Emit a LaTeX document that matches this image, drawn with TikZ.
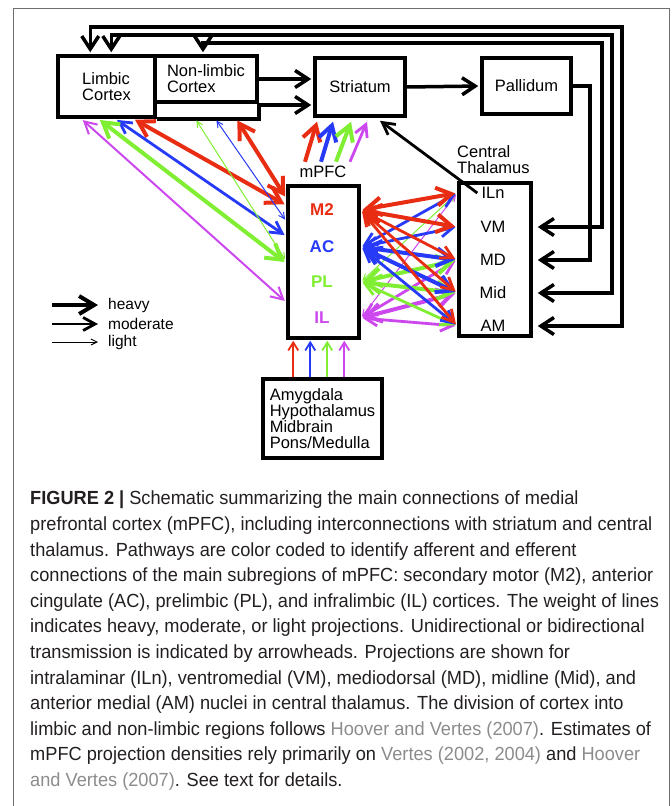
\documentclass[tikz,border=0pt]{standalone}
\usepackage{fontspec}
\setmainfont{Liberation Sans}
\newfontfamily\capfont[FakeStretch=0.958]{Liberation Sans}
\usetikzlibrary{arrows.meta}
\definecolor{mred}{RGB}{232,45,18}
\definecolor{mblue}{RGB}{38,58,248}
\definecolor{mgreen}{RGB}{128,238,50}
\definecolor{mpurple}{RGB}{204,72,238}
\definecolor{capgray}{RGB}{140,140,140}
\definecolor{capblack}{RGB}{35,31,32}
\definecolor{framegray}{RGB}{110,110,110}
\newcommand{\refcol}[1]{\textcolor{capgray}{#1}}

\begin{document}
\begin{tikzpicture}[x=1pt, y=-1pt,
    box/.style = {draw, line width=3.5pt, inner sep=0pt, font=\fontsize{16.5}{16}\selectfont},
    lbl/.style = {inner sep=0pt, font=\fontsize{16.5}{16}\selectfont},
    sub/.style = {inner sep=0pt, font=\bfseries\fontsize{17}{17}\selectfont},
    heavy/.style = {line width=4pt, >={Straight Barb[length=15pt,width=18pt]}},
    moderate/.style = {line width=2.8pt, >={Straight Barb[length=12pt,width=13pt]}},
    light/.style = {line width=1pt, >={Straight Barb[length=6pt,width=6pt]}},
    input/.style = {line width=1.8pt, >={Straight Barb[length=8pt,width=10pt]}},
    fb/.style = {line width=3.5pt, >={Straight Barb[length=13pt,width=17pt]}},
    trim/.style = {shorten <=2pt, shorten >=2pt}]
  \useasboundingbox (0,0) rectangle (672,806);
  \draw[framegray, line width=1pt] (13,806) -- (13,8) -- (669,8) -- (669,806);

  % boxes
  \node[box, minimum width=97pt, minimum height=61pt, align=left] (lim) at (106.5,86.5) {Limbic\\Cortex};
  \node[box, minimum width=102pt, minimum height=46pt, align=left] (nonlim) at (206,79) {Non-limbic\\Cortex};
  \draw[line width=3.5pt] (nonlim.south east) -- ++(0,15) -- (lim.south east);
  \node[box, minimum width=90pt, minimum height=58pt] (str) at (360,87) {Striatum};
  \node[box, minimum width=89pt, minimum height=56pt] (pal) at (526.5,86) {Pallidum};
  \node[box, minimum width=71pt, minimum height=152pt] (mpfc) at (323.5,262) {};
  \node[box, minimum width=72pt, minimum height=153pt] (thal) at (495,259.5) {};
  \node[box, minimum width=119pt, minimum height=79pt, align=left] (amy) at (322.5,418.5)
    {Amygdala\\Hypothalamus\\Midbrain\\Pons/Medulla};

  \node[lbl] (mlab) at (323,172) {mPFC};
  \node[lbl, anchor=west, align=left] (tlab) at (457,160) {Central\\Thalamus};
  \node[sub, mred] (m2) at (322,210) {M2};
  \node[sub, mblue] (ac) at (322,247) {AC};
  \node[sub, mgreen] (pl) at (322,282) {PL};
  \node[sub, mpurple] (il) at (322,318) {IL};
  \node[lbl] (iln) at (493,193) {ILn};
  \node[lbl] (vm) at (493,227) {VM};
  \node[lbl] (md) at (493,260) {MD};
  \node[lbl] (mid) at (493,293) {Mid};
  \node[lbl] (am) at (493,326) {AM};

  % cortex, striatum, pallidum
  \draw[fb, ->, shorten >=2pt] (nonlim.east) -- (str.west |- nonlim.east);
  \draw[fb, ->, shorten >=2pt] ([yshift=-26pt]nonlim.east) -- ([yshift=-26pt]str.west |- nonlim.east);
  \draw[fb, ->, shorten >=2pt] (str.east) -- (pal.west);
  \draw[moderate, ->] ([xshift=-4pt]iln.west) -- ([xshift=20pt,yshift=-3pt]str.south);

  % thalamic loops
  \draw[fb, ->] (pal.east) -- ++(17,0) |- ([xshift=5pt]thal.east |- md);
  \draw[fb, <->] ([xshift=5pt]thal.east |- vm) -| (602,43) -| ([xshift=-3pt,yshift=2pt]nonlim.north);
  \draw[fb, <->] ([xshift=5pt]thal.east |- mid) -| (612,35) -| ([xshift=55pt,yshift=2pt]lim.north west);
  \draw[fb, <->] ([xshift=5pt]thal.east |- am) -| (622,27) -| ([xshift=34pt,yshift=2pt]lim.north west);

  % mPFC to striatum
  \foreach \c/\a/\b/\w in {mred/-55/-43/heavy, mblue/-39/-27/heavy, mgreen/-24/-9/heavy, mpurple/-10/7/moderate}
    \draw[\w, \c, ->] ([xshift=\a pt,yshift=-44pt]str.south) -- ([xshift=\b pt,yshift=-4pt]str.south);

  % mPFC and cortex
  \draw[heavy, mred, <->, trim] ([xshift=77pt]lim.south west) -- ([yshift=-21pt]mpfc.north west);
  \draw[heavy, mred, <->, trim] ([xshift=180pt]lim.south west) -- ([yshift=-14pt]mpfc.north west);
  \draw[moderate, mblue, <->, trim] ([xshift=59pt]lim.south west) -- ([yshift=-52pt]mpfc.north west);
  \draw[heavy, mgreen, <->, trim] ([xshift=42pt]lim.south west) -- ([yshift=-79pt]mpfc.north west);
  \draw[moderate, mpurple, line width=2pt, <->, trim] ([xshift=25pt]lim.south west) -- ([yshift=-118pt]mpfc.north west);
  \draw[light, mgreen, <->, trim] ([xshift=139pt]lim.south west) -- ([yshift=-77pt]mpfc.north west);
  \draw[light, mblue, <->, trim] ([xshift=159pt]lim.south west) -- ([yshift=-37pt]mpfc.north west);

  % mPFC and thalamus
  \foreach \s/\t/\w/\c in {
      pl/iln/light/mgreen, il/iln/light/mpurple,
      il/md/moderate/mpurple, il/mid/heavy/mpurple, il/am/moderate/mpurple,
      pl/md/heavy/mgreen, pl/mid/heavy/mgreen, pl/am/moderate/mgreen,
      ac/iln/moderate/mblue, ac/vm/moderate/mblue, ac/md/heavy/mblue, ac/mid/heavy/mblue, ac/am/moderate/mblue,
      m2/iln/heavy/mred, m2/vm/heavy/mred, m2/md/moderate/mred, m2/mid/moderate/mred, m2/am/moderate/mred}
    \draw[\w, \c, <->, trim] (mpfc.east |- \s) -- (thal.west |- \t);

  % brainstem inputs
  \foreach \c [count=\i] in {mred, mblue, mgreen, mpurple}
    \draw[input, \c, ->, shorten >=1pt] ([xshift={(15+17*\i)*1pt}]amy.north west) -- ([xshift={(-10+17*\i)*1pt}]mpfc.south west);

  % legend
  \node[lbl, anchor=west, font=\fontsize{15.5}{15}\selectfont] (lgheavy) at (108,305) {heavy};
  \node[lbl, anchor=west, font=\fontsize{15.5}{15}\selectfont] (lgmod) at (108,324) {moderate};
  \node[lbl, anchor=west, font=\fontsize{15.5}{15}\selectfont] (lglight) at (108,342) {light};
  \draw[heavy, ->] ([xshift=-56pt]lgheavy.west) -- ([xshift=-10pt]lgheavy.west);
  \draw[moderate, ->] ([xshift=-56pt]lgmod.west) -- ([xshift=-10pt]lgmod.west);
  \draw[light, ->] ([xshift=-56pt]lglight.west) -- ([xshift=-10pt]lglight.west);

  % caption
  \node[anchor=north west, inner sep=0pt, align=left, text=capblack,
        font=\capfont\fontsize{19}{25.6}\selectfont] (cap) at (30,491)
    {\textbf{FIGURE 2 |} Schematic summarizing the main connections of medial\\
     prefrontal cortex (mPFC), including interconnections with striatum and central\\
     thalamus. Pathways are color coded to identify afferent and efferent\\
     connections of the main subregions of mPFC: secondary motor (M2), anterior\\
     cingulate (AC), prelimbic (PL), and infralimbic (IL) cortices. The weight of lines\\
     indicates heavy, moderate, or light projections. Unidirectional or bidirectional\\
     transmission is indicated by arrowheads. Projections are shown for\\
     intralaminar (ILn), ventromedial (VM), mediodorsal (MD), midline (Mid), and\\
     anterior medial (AM) nuclei in central thalamus. The division of cortex into\\
     limbic and non-limbic regions follows \refcol{Hoover and Vertes (2007)}. Estimates of\\
     mPFC projection densities rely primarily on \refcol{Vertes (2002, 2004)} and \refcol{Hoover}\\
     \refcol{and Vertes (2007)}. See text for details.};
\end{tikzpicture}
\end{document}
